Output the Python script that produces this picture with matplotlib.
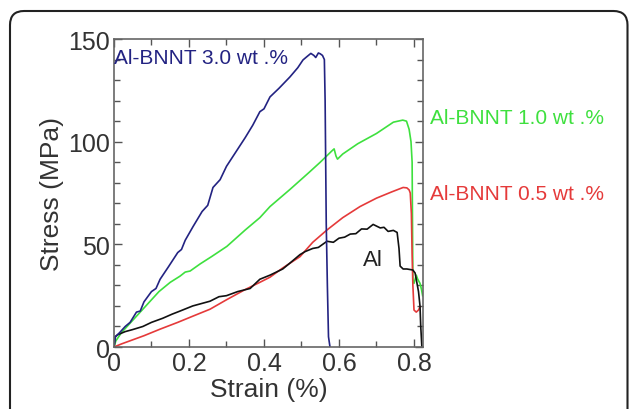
import matplotlib
matplotlib.use("Agg")
import matplotlib.pyplot as plt
from matplotlib.patches import FancyBboxPatch
from matplotlib.transforms import IdentityTransform
from matplotlib.ticker import MultipleLocator

plt.rcParams['font.family'] = ['Liberation Sans', 'DejaVu Sans']

# Al-BNNT 3.0 wt.%
x30 = [0, 0.004, 0.015, 0.03, 0.043, 0.06, 0.07, 0.08, 0.1, 0.112, 0.123, 0.145, 0.17, 0.18,
       0.19, 0.211, 0.235, 0.25, 0.264, 0.283, 0.3, 0.325, 0.35, 0.37, 0.389, 0.4, 0.416,
       0.44, 0.469, 0.49, 0.504, 0.515, 0.525, 0.533, 0.538, 0.545, 0.55, 0.556, 0.561,
       0.563, 0.564, 0.566, 0.569, 0.572, 0.576]
y30 = [0, 5, 7, 10, 12, 17, 17.5, 22, 27, 28.5, 33, 39, 46, 47.5, 52, 58.7, 66, 69, 77.7,
       81.5, 88, 95, 102, 108, 114.6, 116, 121.8, 126, 131.5, 136, 139.8, 141.5, 143,
       142, 141, 143.2, 142.8, 142, 140, 120, 100, 60, 30, 5, 0]

# Al-BNNT 1.0 wt.%
x10 = [0, 0.005, 0.02, 0.04, 0.077, 0.12, 0.15, 0.176, 0.19, 0.203, 0.23, 0.26, 0.301,
       0.35, 0.389, 0.416, 0.469, 0.52, 0.55, 0.581, 0.587, 0.592, 0.596, 0.61, 0.65,
       0.7, 0.745, 0.77, 0.78, 0.787, 0.792, 0.795, 0.796, 0.797, 0.8, 0.806, 0.81,
       0.816, 0.82, 0.823]
y10 = [0, 3, 7, 11, 18.4, 27, 31.5, 34.5, 36.5, 37, 40.5, 44, 49, 57, 63, 68.4, 76.7, 85,
       90, 95.5, 96.5, 93, 91.5, 94, 99, 104, 109.5, 110.5, 110, 106, 100, 90, 60, 33,
       31, 35, 33, 31, 28, 25]

# Al-BNNT 0.5 wt.%
x05 = [0, 0.02, 0.05, 0.08, 0.123, 0.17, 0.21, 0.256, 0.3, 0.35, 0.389, 0.416, 0.45,
       0.496, 0.53, 0.568, 0.61, 0.656, 0.7, 0.74, 0.771, 0.781, 0.787, 0.79, 0.793,
       0.795, 0.797, 0.8, 0.806, 0.812, 0.816]
y05 = [0, 1.5, 3.5, 5.5, 8.7, 12, 15, 18.4, 23, 28, 31.5, 34, 38.5, 44, 51, 57, 63, 68.4,
       72.5, 75.5, 77.7, 77.5, 76.5, 75, 65, 45, 30, 18, 17, 18, 19.5]

# Al
xal = [0, 0.003, 0.01, 0.03, 0.05, 0.077, 0.1, 0.13, 0.155, 0.176, 0.21, 0.23, 0.256,
       0.28, 0.3, 0.33, 0.363, 0.389, 0.416, 0.45, 0.47, 0.496, 0.51, 0.53, 0.545, 0.568,
       0.585, 0.6, 0.615, 0.63, 0.645, 0.66, 0.675, 0.691, 0.71, 0.72, 0.731, 0.745,
       0.755, 0.76, 0.763, 0.771, 0.781, 0.797, 0.803, 0.807, 0.812, 0.816, 0.818, 0.821]
yal = [0, 5, 6, 7.5, 8.5, 10, 12, 14, 16, 17.5, 20, 21, 22.3, 24.5, 25, 27, 28.5, 33, 35,
       38, 41, 45, 46.5, 48, 48.5, 51.5, 51, 53, 53.5, 55, 55.2, 57.5, 57.4, 59.7, 58,
       58.3, 56.3, 56.8, 55.8, 48, 39.4, 38, 38, 37.5, 36, 32, 27, 20, 10, 0]

labels = ["Al-BNNT 3.0 wt .%", "Al-BNNT 1.0 wt .%", "Al-BNNT 0.5 wt .%", "Al"]
colors = ['#232382', '#3ee03e', '#e53a3a', '#111111']

fig = plt.figure(figsize=(6.29, 4.10), dpi=100)
ax = fig.add_axes([0.1812, 0.1512, 0.4913, 0.7512])

ax.plot(x10, y10, color=colors[1], lw=1.2)
ax.plot(x05, y05, color=colors[2], lw=1.2)
ax.plot(xal, yal, color=colors[3], lw=1.2)
ax.plot(x30, y30, color=colors[0], lw=1.2)

ax.set_xlim(0, 0.824)
ax.set_ylim(0, 150)
ax.xaxis.set_minor_locator(MultipleLocator(0.1))
ax.yaxis.set_major_locator(MultipleLocator(50))
ax.yaxis.set_minor_locator(MultipleLocator(10))
ax.set_xticks([0, 0.2, 0.4, 0.6, 0.8])
ax.set_xticklabels(["0", "0.2", "0.4", "0.6", "0.8"])
ax.tick_params(which='both', direction='in', top=True, right=True,
               colors='#555555', labelcolor='#333333', labelsize=18, width=1)
ax.tick_params(which='major', length=6, pad=3)
ax.tick_params(which='minor', length=4)
for s in ax.spines.values():
    s.set_color('#666666')
    s.set_linewidth(1.2)

ax.set_xlabel("Strain (%)", fontsize=19, color='#333333', labelpad=1)
ax.set_ylabel("Stress (MPa)", fontsize=19, color='#333333', labelpad=3)

ax.text(0.0, 140.8, labels[0], color=colors[0], fontsize=15, va='center', ha='left')
ax.text(0.843, 111.6, labels[1], color=colors[1], fontsize=15, va='center', ha='left',
        clip_on=False)
ax.text(0.843, 75, labels[2], color=colors[2], fontsize=15, va='center', ha='left',
        clip_on=False)
ax.text(0.664, 42.7, labels[3], color='#222222', fontsize=16, va='center', ha='left')

frame = FancyBboxPatch((10, -60), 617.5, 458, boxstyle="round,pad=0,rounding_size=14",
                       transform=IdentityTransform(), fill=False, edgecolor='#222222',
                       linewidth=1.5)
fig.patches.append(frame)

fig.savefig("out.png", dpi=100)
